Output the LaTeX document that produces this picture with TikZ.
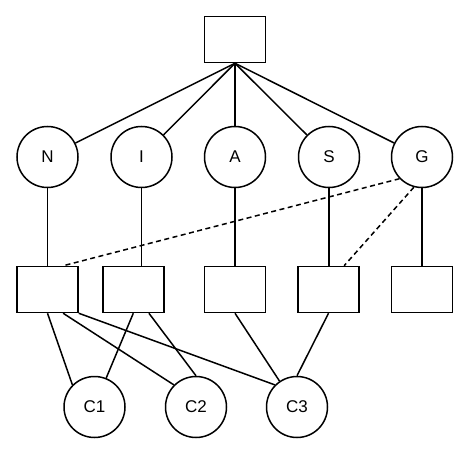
\documentclass[tikz,border=0pt]{standalone}
\usepackage{fontspec}
\setmainfont{Liberation Sans}
\usetikzlibrary{calc}

\begin{document}
\begin{tikzpicture}[x=1pt, y=1pt, line width=1.5pt,
        attr/.style={draw, circle, minimum size=61pt, inner sep=0pt, font=\fontsize{17}{20}\selectfont},
        box/.style={draw, rectangle, minimum width=61pt, minimum height=46pt},
        link/.style={dash pattern=on 5pt off 3.5pt}]
            \useasboundingbox (0,0) rectangle (470,455);
            \node[box] (top) at (235,415.5) {};
            \foreach \lbl/\x in {N/47.5, I/141.5, A/235, S/329, G/422}
            {
                \node[attr] (attr-\lbl) at (\x,298) {\lbl};
                \draw (top.south) -- (attr-\lbl);
            }
            \foreach \i/\lbl/\x in {0/N/47.5, 1/I/133.3, 2/A/235, 3/S/328.5, 4/G/422}
            {
                \node[box] (box-\i) at (\x,165.5) {};
                \draw (attr-\lbl.south) -- (attr-\lbl.south |- box-\i.north);
            }
            \foreach \i/\x in {1/94.5, 2/196, 3/297}
            {
                \node[attr] (cls-\i) at (\x,48) {C\i};
            }
            % dashed links from G
            \draw[link] (attr-G.224) -- ($(box-0.north west)!.75!(box-0.north east)$);
            \draw[link] (attr-G.255) -- ($(box-3.north west)!.75!(box-3.north east)$);
            % lower links
            \draw (box-0.south) -- (cls-1.135);
            \draw ($(box-0.south west)!.75!(box-0.south east)$) -- (cls-2.135);
            \draw (box-0.south east) -- (cls-3.135);
            \draw (box-1.south) -- (cls-1.68);
            \draw ($(box-1.south west)!.75!(box-1.south east)$) -- (cls-2.north);
            \draw (box-2.south) -- (cls-3.124);
            \draw (box-3.south) -- (cls-3.north);
        \end{tikzpicture}
\end{document}
